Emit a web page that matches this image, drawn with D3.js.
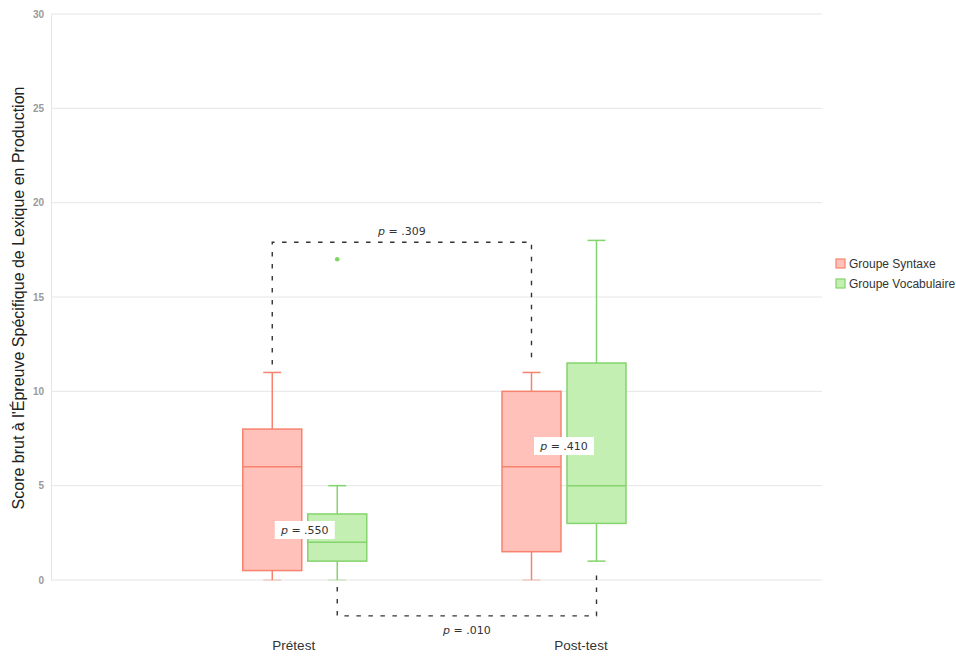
<!DOCTYPE html>
<html>
<head>
<meta charset="utf-8">
<script src="https://cdn.jsdelivr.net/npm/d3@7"></script>
<style>
  html, body { margin: 0; padding: 0; background: #fff; }
  svg { display: block; }
</style>
</head>
<body>
<svg id="chart" width="956" height="657"></svg>
<script>
// Test phases and groups
const phases = ["Prétest", "Post-test"];
const groups = ["Groupe Syntaxe", "Groupe Vocabulaire"];
const yTicks = [0, 5, 10, 15, 20, 25, 30];

// Box statistics per group, in phase order: [min, q1, median, q3, max]
const syntaxeStats = [[0, 0.5, 6, 8, 11], [0, 1.5, 6, 10, 11]];
const vocabulaireStats = [[0, 1, 2, 3.5, 5], [1, 3, 5, 11.5, 18]];
// Outliers: [phase, value]
const vocabulaireOutliers = [["Prétest", 17]];

// Comparisons: within-phase p values and between-phase p values
const phaseComparisons = [["Prétest", ".550", 2.65], ["Post-test", ".410", 7.1]];
const syntaxeComparison = { p: ".309", level: 17.9 };
const vocabulaireComparison = { p: ".010", level: -1.9 };

const colors = {
  "Groupe Syntaxe": { fill: "#ffc1b9", stroke: "#f7836f" },
  "Groupe Vocabulaire": { fill: "#c4efb2", stroke: "#83d46c" }
};

const svg = d3.select("#chart");
const plotLeft = 51, plotRight = 822, plotTop = 14, plotBottom = 580;

const y = d3.scaleLinear().domain([0, 30]).range([plotBottom, plotTop]);
const x = d3.scalePoint().domain(phases).range([45.5, 823.25]).padding(1);
const offset = d3.scaleOrdinal().domain(groups).range([-32.5, 32.5]);
const boxW = 59, capW = 18;

// Horizontal grid
svg.append("g")
  .selectAll("line")
  .data(yTicks)
  .join("line")
  .attr("x1", plotLeft).attr("x2", plotRight)
  .attr("y1", d => y(d)).attr("y2", d => y(d))
  .attr("stroke", "#e6e6e6").attr("stroke-width", 1);

// Left axis
const yAxis = svg.append("g")
  .attr("transform", `translate(${plotLeft},0)`)
  .call(d3.axisLeft(y).tickValues(yTicks).tickSize(0).tickPadding(7));
yAxis.select(".domain").attr("stroke", "#e6e6e6");
yAxis.selectAll("text")
  .attr("fill", "#9a9a9a")
  .attr("font-family", "Liberation Sans, Arial, sans-serif")
  .attr("font-weight", "bold")
  .attr("font-size", 10);

svg.append("text")
  .attr("transform", `translate(24,298) rotate(-90)`)
  .attr("text-anchor", "middle")
  .attr("font-family", "Liberation Sans, Arial, sans-serif")
  .attr("font-size", 16)
  .attr("fill", "#222")
  .text("Score brut à l'Épreuve Spécifique de Lexique en Production");

// Phase labels
const labelShift = { "Prétest": -11, "Post-test": 17 };
svg.append("g")
  .selectAll("text")
  .data(phases)
  .join("text")
  .attr("x", d => x(d) + labelShift[d])
  .attr("y", 650)
  .attr("text-anchor", "middle")
  .attr("font-family", "Liberation Sans, Arial, sans-serif")
  .attr("font-size", 13.5)
  .attr("fill", "#333")
  .text(d => d);

// Boxplots
function drawBoxes(group, stats) {
  const c = colors[group];
  const g = svg.append("g");
  stats.forEach((s, i) => {
    const cx = x(phases[i]) + offset(group);
    const [mn, q1, med, q3, mx] = s;
    const bx = g.append("g").attr("stroke", c.stroke).attr("stroke-width", 1.5);
    bx.append("line").attr("x1", cx).attr("x2", cx).attr("y1", y(mx)).attr("y2", y(q3));
    bx.append("line").attr("x1", cx).attr("x2", cx).attr("y1", y(q1)).attr("y2", y(mn));
    bx.append("line").attr("x1", cx - capW / 2).attr("x2", cx + capW / 2).attr("y1", y(mx)).attr("y2", y(mx));
    bx.append("line").attr("x1", cx - capW / 2).attr("x2", cx + capW / 2).attr("y1", y(mn)).attr("y2", y(mn))
      .attr("stroke-opacity", mn === 0 ? 0.35 : 1);
    bx.append("rect")
      .attr("x", cx - boxW / 2).attr("width", boxW)
      .attr("y", y(q3)).attr("height", y(q1) - y(q3))
      .attr("fill", c.fill);
    bx.append("line").attr("x1", cx - boxW / 2).attr("x2", cx + boxW / 2).attr("y1", y(med)).attr("y2", y(med));
  });
}
drawBoxes("Groupe Syntaxe", syntaxeStats);
drawBoxes("Groupe Vocabulaire", vocabulaireStats);

svg.append("g")
  .selectAll("circle")
  .data(vocabulaireOutliers)
  .join("circle")
  .attr("cx", d => x(d[0]) + offset("Groupe Vocabulaire"))
  .attr("cy", d => y(d[1]))
  .attr("r", 2.3)
  .attr("fill", "#7fd663");

// Significance brackets
function pLabel(sel, p) {
  sel.append("tspan").attr("font-style", "italic").text("p");
  sel.append("tspan").text(" = " + p);
}
const dash = { stroke: "#333", "stroke-width": 1.4, "stroke-dasharray": "4.5,7.5", fill: "none" };

// Syntaxe group: pretest vs post-test (above)
{
  const x1 = x(phases[0]) + offset("Groupe Syntaxe");
  const x2 = x(phases[1]) + offset("Groupe Syntaxe");
  const yl = y(syntaxeComparison.level);
  const p = d3.path();
  p.moveTo(x1, y(11) - 8); p.lineTo(x1, yl); p.lineTo(x2, yl); p.lineTo(x2, y(11) - 10);
  const path = svg.append("path").attr("d", p.toString());
  Object.entries(dash).forEach(([k, v]) => path.attr(k, v));
  const t = svg.append("text")
    .attr("x", (x1 + x2) / 2).attr("y", yl - 7)
    .attr("text-anchor", "middle")
    .attr("font-family", "DejaVu Sans, sans-serif").attr("font-size", 11).attr("fill", "#333");
  pLabel(t, syntaxeComparison.p);
}

// Vocabulaire group: pretest vs post-test (below)
{
  const x1 = x(phases[0]) + offset("Groupe Vocabulaire");
  const x2 = x(phases[1]) + offset("Groupe Vocabulaire");
  const yl = y(vocabulaireComparison.level);
  const p = d3.path();
  p.moveTo(x1, y(0) + 7); p.lineTo(x1, yl); p.lineTo(x2, yl); p.lineTo(x2, y(1) + 8);
  const path = svg.append("path").attr("d", p.toString());
  Object.entries(dash).forEach(([k, v]) => path.attr(k, v));
  const t = svg.append("text")
    .attr("x", (x1 + x2) / 2).attr("y", yl + 18)
    .attr("text-anchor", "middle")
    .attr("font-family", "DejaVu Sans, sans-serif").attr("font-size", 11).attr("fill", "#333");
  pLabel(t, vocabulaireComparison.p);
}

// Between-group labels on white tags
phaseComparisons.forEach(([phase, pv, level]) => {
  const cx = x(phase), cy = y(level);
  svg.append("rect")
    .attr("x", cx - 30).attr("y", cy - 9)
    .attr("width", 60).attr("height", 18)
    .attr("fill", "#fff");
  const t = svg.append("text")
    .attr("x", cx).attr("y", cy + 4)
    .attr("text-anchor", "middle")
    .attr("font-family", "DejaVu Sans, sans-serif").attr("font-size", 11).attr("fill", "#333");
  pLabel(t, pv);
});

// Legend
const legend = svg.append("g")
  .selectAll("g")
  .data(groups)
  .join("g")
  .attr("transform", (d, i) => `translate(836,${259 + i * 20})`);
legend.append("rect")
  .attr("width", 9).attr("height", 9)
  .attr("fill", d => colors[d].fill)
  .attr("stroke", d => colors[d].stroke).attr("stroke-width", 1.2);
legend.append("text")
  .attr("x", 13).attr("y", 9)
  .attr("font-family", "Liberation Sans, Arial, sans-serif")
  .attr("font-size", 12).attr("fill", "#333")
  .text(d => d);
</script>
</body>
</html>
